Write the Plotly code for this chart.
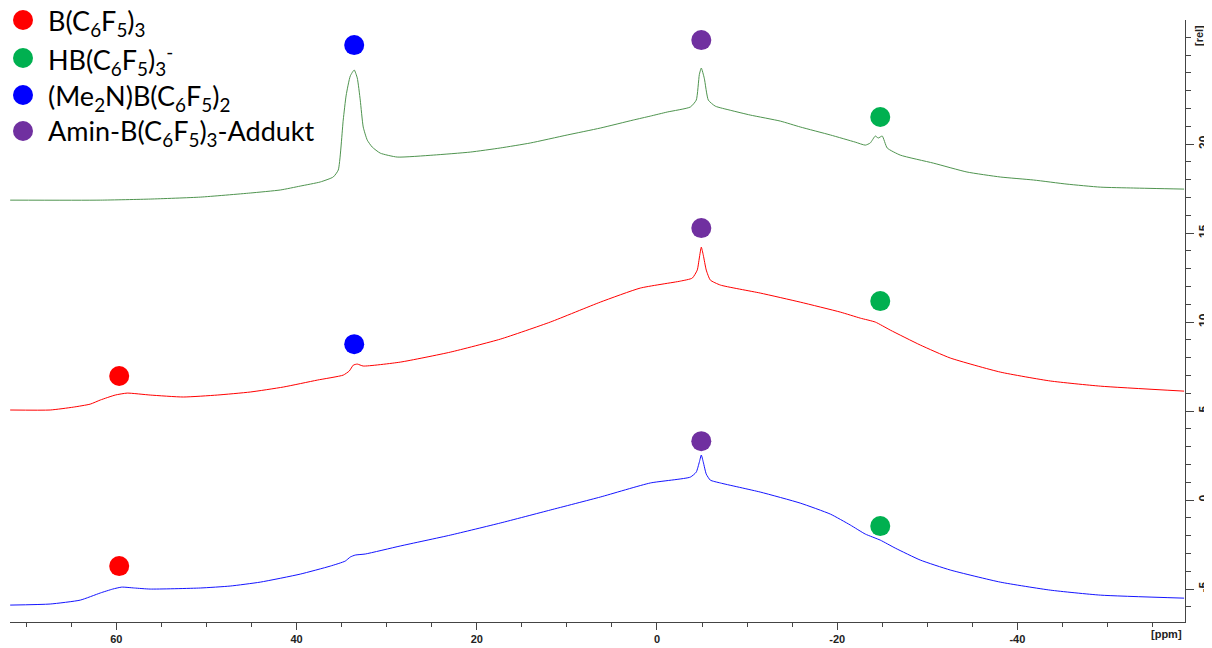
import plotly.graph_objects as go

# ---------------- data (ppm, rel. intensity) ----------------
green_ppm = [71.78, 61.78, 56.24, 50.68, 45.14, 41.8, 39.59, 37.37, 35.93, 35.37, 34.82, 34.49, 34.04, 33.6,
             33.26, 32.93, 32.6, 32.15, 31.6, 30.71, 28.83, 24.83, 20.72, 17.39, 14.06, 9.96, 6.29, 2.63,
             0.74, -1.14, -3.7, -4.36, -4.7, -4.92, -5.25, -5.7, -6.47, -8.14, -10.35, -13.69, -15.9,
             -19.25, -22.0, -23.12, -23.67, -24.23, -24.56, -25.0, -25.55, -27.0, -30.67, -34.4,
             -38.1, -41.8, -45.5, -49.2, -52.9, -58.5]
green_val = [16.85, 16.85, 16.91, 17.02, 17.25, 17.42, 17.64, 17.87, 18.15, 18.54, 21.35, 22.75, 23.82, 24.16,
             23.71, 22.47, 20.96, 20.22, 19.83, 19.49, 19.27, 19.38, 19.55, 19.78, 20.06, 20.51, 20.9, 21.35,
             21.57, 21.8, 22.08, 22.47, 23.9, 24.27, 23.7, 22.47, 22.13, 21.9, 21.63, 21.29, 20.96,
             20.51, 20.11, 19.94, 20.06, 20.45, 20.34, 20.45, 19.78, 19.38, 18.93, 18.43,
             18.15, 17.98, 17.75, 17.58, 17.53, 17.47]

red_ppm = [71.78, 67.34, 64.78, 62.9, 61.78, 60.12, 58.79, 56.24, 52.57, 48.8, 45.14, 41.47, 37.7, 34.82,
           34.15, 33.7, 33.26, 32.6, 28.49, 22.94, 17.39, 11.84, 6.29, 1.85, -2.59, -3.92, -4.47, -4.7,
           -4.92, -5.14, -5.47, -5.92, -7.03, -11.46, -15.9, -20.35, -22.57, -24.23, -25.89, -29.22,
           -32.55, -38.1, -43.65, -49.2, -58.5]
red_val = [5.06, 5.06, 5.22, 5.39, 5.62, 5.9, 6.01, 5.9, 5.79, 5.9, 6.07, 6.35, 6.74, 7.02,
           7.25, 7.58, 7.64, 7.53, 7.75, 8.31, 9.04, 10.0, 11.12, 11.91, 12.3, 12.47, 12.92, 13.6,
           14.21, 13.76, 12.92, 12.36, 12.08, 11.63, 11.12, 10.56, 10.22, 10.0, 9.55, 8.71,
           7.98, 7.19, 6.69, 6.4, 6.12]

blue_ppm = [71.78, 67.34, 64.0, 61.78, 60.4, 59.4, 58.0, 56.24, 50.68, 47.36, 44.03, 39.59, 36.26, 34.6,
            34.04, 33.49, 32.37, 28.49, 22.94, 17.39, 11.84, 6.29, 0.74, -3.7, -4.36, -4.7, -4.92,
            -5.14, -5.47, -5.92, -7.03, -11.46, -15.9, -19.25, -21.45, -23.12, -24.78, -26.45,
            -29.22, -32.55, -38.1, -43.65, -49.2, -58.5]
blue_val = [-5.9, -5.84, -5.62, -5.22, -5.0, -4.89, -4.94, -5.0, -4.94, -4.83, -4.61, -4.16, -3.71, -3.43,
            -3.2, -3.09, -3.03, -2.58, -1.97, -1.29, -0.56, 0.17, 0.96, 1.29, 1.57, 2.13, 2.53,
            2.13, 1.46, 1.12, 0.96, 0.45, -0.17, -0.79, -1.4, -1.91, -2.25, -2.7,
            -3.37, -3.93, -4.61, -5.06, -5.34, -5.51]

# peak-assignment markers
bcf_ppm = [59.68, 59.68]
bcf_val = [6.97, -3.71]
hb_ppm = [-24.78, -24.78, -24.78]
hb_val = [21.52, 11.18, -1.46]
me2n_ppm = [33.6, 33.6]
me2n_val = [25.56, 8.76]
adduct_ppm = [-4.92, -4.92, -4.92]
adduct_val = [25.84, 15.28, 3.31]

legend_names = ["B(C<sub>6</sub>F<sub>5</sub>)<sub>3</sub>",
                "HB(C<sub>6</sub>F<sub>5</sub>)<sub>3</sub><sup>-</sup>",
                "(Me<sub>2</sub>N)B(C<sub>6</sub>F<sub>5</sub>)<sub>2</sub>",
                "Amin-B(C<sub>6</sub>F<sub>5</sub>)<sub>3</sub>-Addukt"]
marker_colors = ["#ff0000", "#00b050", "#0000ff", "#7030a0"]

x_tickvals = [60, 40, 20, 0, -20, -40]
x_ticktext = ["60", "40", "20", "0", "-20", "-40"]
y_tickvals = [-5, 0, 5, 10, 15, 20]
y_ticktext = ["-5", "0", "5", "10", "15", "20"]

# ---------------- figure ----------------
OFF = 8                      # page body margin of the html page
W, H = 1212 - OFF, 648 - OFF
ML, MR, MT, MB = 10 - OFF, 27, 20 - OFF, 26
PW, PH = W - ML - MR, H - MT - MB


def px_x(page_x):
    return (page_x - OFF - ML) / PW


def px_y(page_y):
    return (H - MB - (page_y - OFF)) / PH


fig = go.Figure()
for xs, ys, col in [(green_ppm, green_val, "#4f944f"), (red_ppm, red_val, "#ff0000"), (blue_ppm, blue_val, "#1414ff")]:
    fig.add_trace(go.Scatter(x=xs, y=ys, mode="lines",
                             line=dict(color=col, width=1, shape="spline", smoothing=0.5),
                             showlegend=False, hoverinfo="skip"))

for xs, ys, col, name in zip([bcf_ppm, hb_ppm, me2n_ppm, adduct_ppm],
                             [bcf_val, hb_val, me2n_val, adduct_val],
                             marker_colors, legend_names):
    fig.add_trace(go.Scatter(x=xs, y=ys, mode="markers", name=name, showlegend=False,
                             marker=dict(color=col, size=20, line=dict(width=0))))

# manual legend (page pixel rows)
legend_rows_px = [20, 58, 95, 131]
shapes, annotations = [], []
for name, col, py in zip(legend_names, marker_colors, legend_rows_px):
    shapes.append(dict(type="circle", xref="paper", yref="paper", xsizemode="pixel", ysizemode="pixel",
                       xanchor=px_x(23), yanchor=px_y(py), x0=-10, x1=10, y0=-10, y1=10,
                       fillcolor=col, line=dict(width=0)))
    annotations.append(dict(text=name, xref="paper", yref="paper", x=px_x(46), y=px_y(py + 2),
                            xanchor="left", yanchor="middle", showarrow=False,
                            font=dict(family="Lato", size=27, color="black")))

tickfont = dict(family="Liberation Sans", size=11, color="#222222", weight="bold")
ytickfont = dict(family="Liberation Sans", size=12, color="#222222", weight="bold")

annotations += [
    dict(text="[ppm]", xref="paper", yref="paper", x=px_x(1166), y=px_y(634), showarrow=False,
         xanchor="center", yanchor="middle", font=tickfont),
    dict(text="[rel]", xref="paper", yref="paper", x=px_x(1199), y=px_y(36), showarrow=False,
         textangle=-90, xanchor="center", yanchor="middle", font=tickfont),
]

fig.update_layout(
    width=W, height=H,
    margin=dict(l=ML, r=MR, t=MT, b=MB, autoexpand=False),
    paper_bgcolor="white", plot_bgcolor="white",
    showlegend=False,
    shapes=shapes, annotations=annotations,
    xaxis=dict(range=[71.8, -58.6], showgrid=False, zeroline=False, showline=True, linecolor="#444444",
               linewidth=1, ticks="outside", ticklen=7, tickcolor="#444444", automargin=False,
               tickmode="array", tickvals=x_tickvals, ticktext=x_ticktext, tickfont=tickfont,
               minor=dict(tickmode="linear", tick0=0, dtick=5, ticks="outside", ticklen=4, tickcolor="#444444")),
    yaxis=dict(range=[-6.85, 26.97], side="right", showgrid=False, zeroline=False, showline=True,
               linecolor="#444444", linewidth=1, ticks="outside", ticklen=8, tickcolor="#444444",
               automargin=False,
               tickmode="array", tickvals=y_tickvals, ticktext=y_ticktext, tickfont=ytickfont,
               tickangle=-90,
               minor=dict(tickmode="linear", tick0=0, dtick=1, ticks="outside", ticklen=5, tickcolor="#444444")),
)

fig.write_html("out.html")
